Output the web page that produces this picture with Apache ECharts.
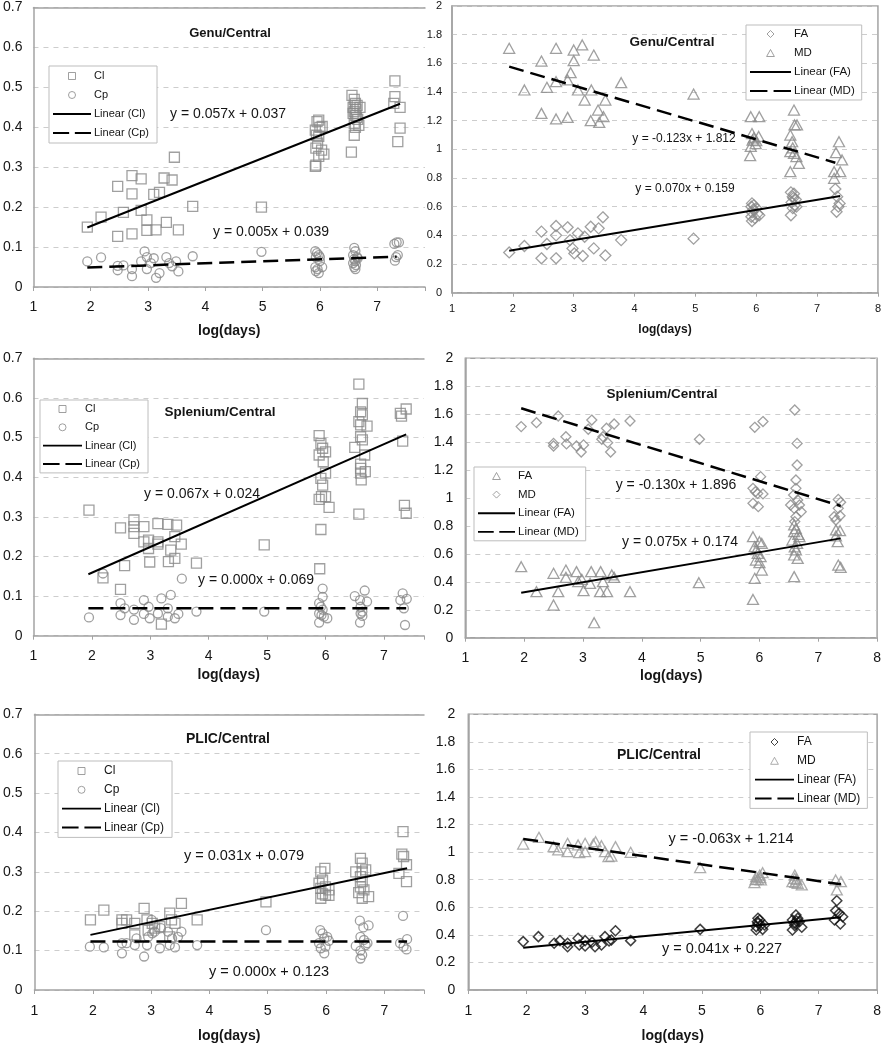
<!DOCTYPE html>
<html><head><meta charset="utf-8">
<script src="https://cdn.jsdelivr.net/npm/echarts@6/dist/echarts.min.js"></script>
<style>html,body{margin:0;padding:0;background:#fff}#c{width:884px;height:1050px}</style>
</head><body><div id="c"></div><script>
// ---------- DATA (x = log(days)) ----------
const xTickLabels = [1, 2, 3, 4, 5, 6, 7, 8];

// Genu/Central (Cl, Cp)
const genuCl = [[1.94,0.150],[2.18,0.175],[2.47,0.252],[2.47,0.127],[2.57,0.187],[2.72,0.279],[2.72,0.233],[2.72,0.133],[2.88,0.271],[2.88,0.192],[2.98,0.168],[2.98,0.142],[3.10,0.232],[3.14,0.143],[3.20,0.237],[3.28,0.273],[3.42,0.268],[3.32,0.162],[3.46,0.325],[3.53,0.143],[3.78,0.202],[4.98,0.200],
 [5.92,0.302],[5.93,0.305],[5.92,0.393],[5.93,0.348],[5.95,0.414],[5.98,0.418],[6.04,0.402],[5.98,0.377],[6.03,0.343],[6.07,0.333],[5.98,0.327],[5.94,0.380],[6.00,0.400],[5.96,0.360],
 [6.56,0.480],[6.60,0.470],[6.62,0.460],[6.65,0.455],[6.58,0.450],[6.63,0.445],[6.60,0.440],[6.70,0.450],[6.62,0.430],[6.66,0.420],[6.60,0.410],[6.68,0.405],[6.62,0.400],[6.60,0.380],[6.55,0.338],[6.64,0.425],[6.58,0.435],
 [7.31,0.516],[7.31,0.477],[7.29,0.460],[7.40,0.450],[7.40,0.398],[7.36,0.364]];
const genuCp = [[1.94,0.064],[2.18,0.074],[2.47,0.053],[2.47,0.042],[2.57,0.054],[2.72,0.045],[2.72,0.027],[2.88,0.064],[2.94,0.089],[2.98,0.075],[2.98,0.045],[3.05,0.060],[3.10,0.072],[3.14,0.023],[3.20,0.035],[3.32,0.075],[3.37,0.060],[3.42,0.052],[3.49,0.064],[3.53,0.039],[3.78,0.077],[4.98,0.088],
 [5.92,0.090],[5.95,0.085],[5.98,0.080],[5.93,0.075],[6.00,0.065],[5.92,0.050],[5.96,0.045],[6.04,0.050],[5.93,0.040],[5.98,0.035],[6.00,0.075],
 [6.60,0.098],[6.62,0.090],[6.58,0.080],[6.65,0.075],[6.60,0.070],[6.62,0.065],[6.58,0.060],[6.63,0.055],[6.60,0.050],[6.62,0.045],[6.66,0.072],
 [7.30,0.108],[7.34,0.112],[7.38,0.112],[7.36,0.080],[7.33,0.075],[7.31,0.066]];
const genuClTrend = [[1.94,0.149],[7.40,0.459]];
const genuCpTrend = [[1.94,0.049],[7.34,0.076]];

// Genu/Central (FA, MD)
const genuFA = [[1.94,0.281],[2.19,0.326],[2.47,0.426],[2.47,0.240],[2.56,0.340],[2.71,0.465],[2.71,0.400],[2.71,0.240],[2.90,0.456],[2.94,0.367],[2.98,0.309],[3.01,0.274],[3.07,0.414],[3.15,0.256],[3.18,0.390],[3.28,0.460],[3.41,0.449],[3.33,0.309],[3.48,0.526],[3.52,0.260],[3.78,0.367],[4.97,0.377],
 [5.93,0.623],[5.96,0.610],[5.92,0.600],[6.00,0.590],[5.95,0.580],[5.93,0.560],[6.02,0.550],[5.92,0.530],[5.98,0.520],[5.93,0.500],[6.05,0.540],
 [6.57,0.700],[6.62,0.690],[6.60,0.670],[6.65,0.650],[6.58,0.630],[6.63,0.610],[6.60,0.590],[6.57,0.540],[6.66,0.600],[6.61,0.660],
 [7.30,0.723],[7.33,0.670],[7.37,0.623],[7.35,0.600],[7.32,0.565]];
const genuMD = [[1.94,1.705],[2.19,1.414],[2.47,1.616],[2.47,1.251],[2.56,1.433],[2.71,1.705],[2.71,1.472],[2.71,1.212],[2.90,1.484],[2.90,1.223],[2.95,1.535],[3.00,1.693],[3.00,1.619],[3.07,1.414],[3.14,1.728],[3.18,1.344],[3.29,1.414],[3.28,1.200],[3.33,1.658],[3.40,1.274],[3.42,1.188],[3.49,1.228],[3.52,1.344],[3.78,1.465],[4.97,1.386],
 [5.91,1.228],[6.05,1.228],[5.93,1.110],[5.94,1.065],[5.91,1.020],[5.90,0.956],[5.99,1.040],[6.04,1.090],[5.96,1.080],[6.00,1.060],
 [6.62,1.274],[6.63,1.170],[6.67,1.170],[6.56,1.100],[6.59,1.053],[6.56,0.984],[6.62,0.972],[6.70,0.902],[6.56,0.844],[6.66,0.950],[6.60,1.010],
 [7.36,1.053],[7.31,0.977],[7.41,0.926],[7.28,0.844],[7.38,0.844],[7.28,0.798]];
const genuFATrend = [[1.94,0.293],[7.38,0.674]];
const genuMDTrend = [[1.94,1.577],[7.30,0.907]];

// Splenium/Central (Cl, Cp)
const splenCl = [[1.95,0.317],[2.19,0.146],[2.49,0.272],[2.49,0.117],[2.56,0.177],[2.72,0.292],[2.72,0.275],[2.72,0.258],[2.89,0.275],[2.89,0.237],[2.97,0.241],[2.97,0.220],[2.99,0.186],[3.13,0.283],[3.13,0.237],[3.13,0.231],[3.30,0.281],[3.31,0.187],[3.35,0.216],[3.42,0.195],[3.45,0.279],[3.42,0.250],[3.53,0.231],[3.19,0.029],[3.79,0.183],[4.95,0.229],
 [5.89,0.505],[5.92,0.485],[5.95,0.473],[6.00,0.464],[5.89,0.456],[5.96,0.439],[6.00,0.410],[5.92,0.397],[5.95,0.380],[5.93,0.351],[5.89,0.344],[6.00,0.351],[6.06,0.324],[5.92,0.268],[5.90,0.169],
 [6.57,0.635],[6.63,0.586],[6.60,0.565],[6.63,0.557],[6.57,0.540],[6.60,0.532],[6.71,0.529],[6.60,0.502],[6.63,0.494],[6.50,0.475],[6.67,0.456],[6.60,0.433],[6.60,0.422],[6.60,0.410],[6.61,0.393],[6.68,0.414],[6.57,0.307],
 [7.28,0.561],[7.30,0.554],[7.38,0.572],[7.32,0.491],[7.35,0.329],[7.38,0.309]];
const splenCp = [[1.95,0.046],[2.19,0.157],[2.49,0.082],[2.49,0.052],[2.56,0.069],[2.72,0.066],[2.72,0.040],[2.89,0.090],[2.89,0.055],[2.97,0.073],[2.99,0.044],[3.13,0.056],[3.19,0.094],[3.30,0.069],[3.35,0.103],[3.30,0.048],[3.42,0.044],[3.48,0.055],[3.54,0.144],[3.79,0.061],[4.95,0.061],
 [5.95,0.119],[5.95,0.098],[5.89,0.082],[5.92,0.073],[5.89,0.056],[5.93,0.052],[5.97,0.048],[5.89,0.033],[6.03,0.044],[5.95,0.066],
 [6.67,0.114],[6.50,0.100],[6.59,0.090],[6.71,0.086],[6.60,0.073],[6.63,0.061],[6.60,0.056],[6.63,0.050],[6.59,0.033],
 [7.32,0.107],[7.39,0.093],[7.28,0.090],[7.34,0.069],[7.36,0.027]];
const splenClTrend = [[1.94,0.155],[7.38,0.508]];
const splenCpTrend = [[1.94,0.069],[7.38,0.069]];

// Splenium/Central (FA, MD)
const splenFA = [[1.95,0.508],[2.21,0.329],[2.50,0.461],[2.50,0.234],[2.58,0.329],[2.71,0.484],[2.71,0.432],[2.89,0.473],[2.92,0.401],[2.98,0.418],[3.01,0.337],[3.14,0.473],[3.12,0.389],[3.19,0.107],[3.29,0.329],[3.30,0.473],[3.34,0.401],[3.41,0.329],[3.49,0.449],[3.53,0.432],[3.80,0.329],[4.97,0.394],
 [5.89,0.723],[6.00,0.687],[6.04,0.675],[5.92,0.652],[5.97,0.604],[5.94,0.556],[6.00,0.537],[6.04,0.484],[5.92,0.425],[5.89,0.274],[5.95,0.630],[6.02,0.580],
 [6.59,0.807],[6.59,0.759],[6.68,0.723],[6.56,0.699],[6.64,0.675],[6.62,0.628],[6.59,0.592],[6.65,0.568],[6.59,0.437],[6.62,0.780],[6.60,0.650],[6.66,0.740],
 [7.30,0.771],[7.37,0.766],[7.33,0.687],[7.34,0.520],[7.38,0.504],[7.30,0.728]];
const splenMD = [[1.95,1.511],[2.21,1.539],[2.58,1.587],[2.50,1.391],[2.50,1.372],[2.71,1.439],[2.72,1.387],[2.89,1.372],[2.97,1.329],[3.01,1.380],[3.09,1.492],[3.15,1.558],[3.32,1.420],[3.34,1.439],[3.40,1.499],[3.42,1.396],[3.47,1.329],[3.53,1.530],[3.80,1.551],[4.98,1.420],
 [5.92,1.506],[6.06,1.547],[6.02,1.153],[5.89,1.069],[5.93,1.045],[5.97,1.033],[6.06,1.029],[5.89,0.962],[5.98,0.938],
 [6.60,1.630],[6.64,1.391],[6.64,1.236],[6.62,1.129],[6.62,1.069],[6.58,1.021],[6.65,0.986],[6.53,0.950],[6.68,0.950],[6.59,0.926],[6.71,0.902],[6.62,0.866],[6.60,0.831],
 [7.34,0.990],[7.38,0.969],[7.37,0.873],[7.27,0.866],[7.30,0.842],[7.34,0.926]];
const splenFATrend = [[1.95,0.322],[7.38,0.711]];
const splenMDTrend = [[1.95,1.642],[7.38,0.943]];

// PLIC/Central (Cl, Cp)
const plicCl = [[1.96,0.178],[2.19,0.203],[2.50,0.178],[2.50,0.169],[2.58,0.178],[2.72,0.169],[2.72,0.140],[2.88,0.207],[2.93,0.178],[2.95,0.152],[3.02,0.169],[3.06,0.157],[3.15,0.161],[3.32,0.195],[3.35,0.178],[3.32,0.135],[3.41,0.169],[3.52,0.220],[3.79,0.178],[4.97,0.224],
 [5.91,0.300],[5.98,0.309],[5.94,0.279],[5.88,0.271],[5.99,0.262],[5.91,0.258],[6.05,0.254],[5.94,0.244],[5.99,0.241],[5.91,0.233],[6.05,0.240],
 [6.59,0.334],[6.62,0.322],[6.51,0.300],[6.62,0.300],[6.59,0.288],[6.68,0.305],[6.62,0.275],[6.59,0.262],[6.65,0.254],[6.56,0.247],[6.73,0.237],[6.62,0.233],
 [7.32,0.402],[7.30,0.345],[7.33,0.339],[7.38,0.318],[7.25,0.296],[7.38,0.275]];
const plicCp = [[1.95,0.110],[2.19,0.108],[2.50,0.093],[2.50,0.119],[2.58,0.119],[2.72,0.114],[2.75,0.131],[2.88,0.085],[2.93,0.114],[2.95,0.135],[3.02,0.144],[3.01,0.178],[3.06,0.148],[3.15,0.106],[3.17,0.157],[3.29,0.148],[3.32,0.114],[3.36,0.131],[3.41,0.108],[3.52,0.148],[3.46,0.135],[3.79,0.114],[4.97,0.152],
 [5.90,0.152],[5.94,0.144],[5.97,0.131],[6.02,0.135],[5.88,0.119],[5.91,0.106],[5.97,0.093],[5.99,0.110],[6.05,0.125],
 [6.58,0.176],[6.64,0.159],[6.73,0.164],[6.59,0.135],[6.65,0.127],[6.51,0.112],[6.68,0.114],[6.59,0.100],[6.62,0.089],[6.59,0.080],[6.71,0.119],
 [7.32,0.188],[7.39,0.129],[7.27,0.119],[7.33,0.110],[7.38,0.103]];
const plicClTrend = [[1.96,0.140],[7.39,0.309]];
const plicCpTrend = [[1.96,0.123],[7.39,0.123]];

// PLIC/Central (FA, MD)
const plicFA = [[1.94,0.351],[2.20,0.387],[2.47,0.339],[2.57,0.358],[2.70,0.339],[2.70,0.314],[2.88,0.375],[2.90,0.326],[3.00,0.358],[3.00,0.319],[3.12,0.346],[3.17,0.314],[3.28,0.326],[3.34,0.387],[3.41,0.355],[3.45,0.363],[3.52,0.430],[3.78,0.358],[4.97,0.440],
 [5.99,0.508],[5.96,0.484],[5.93,0.460],[6.01,0.472],[6.04,0.440],[5.93,0.435],[6.07,0.472],[5.96,0.520],[5.95,0.495],
 [6.61,0.544],[6.64,0.520],[6.55,0.508],[6.58,0.484],[6.67,0.496],[6.55,0.435],[6.71,0.455],[6.59,0.467],[6.62,0.500],
 [7.31,0.648],[7.29,0.576],[7.35,0.556],[7.41,0.532],[7.27,0.508],[7.37,0.479]];
const plicMD = [[1.94,1.059],[2.21,1.108],[2.46,1.040],[2.54,1.016],[2.70,1.064],[2.70,1.004],[2.88,1.052],[2.90,0.996],[3.00,1.064],[3.00,1.004],[3.14,1.059],[3.18,1.076],[3.28,1.047],[3.34,1.004],[3.40,0.967],[3.45,0.972],[3.52,1.040],[3.78,0.999],[4.97,0.888],
 [5.90,0.779],[5.93,0.822],[5.99,0.834],[6.04,0.851],[5.96,0.803],[6.01,0.798],[5.92,0.800],[6.00,0.815],
 [6.59,0.834],[6.59,0.810],[6.55,0.786],[6.64,0.774],[6.71,0.762],[6.62,0.800],[6.60,0.780],
 [7.29,0.798],[7.38,0.786],[7.31,0.726]];
const plicFATrend = [[1.94,0.307],[7.38,0.527]];
const plicMDTrend = [[1.94,1.096],[7.38,0.767]];

const panelTitles = ['Genu/Central','Genu/Central','Splenium/Central','Splenium/Central','PLIC/Central','PLIC/Central'];
const equations = [
  ['y = 0.057x + 0.037','y = 0.005x + 0.039'],
  ['y = -0.123x + 1.812','y = 0.070x + 0.159'],
  ['y = 0.067x + 0.024','y = 0.000x + 0.069'],
  ['y = -0.130x + 1.896','y = 0.075x + 0.174'],
  ['y = 0.031x + 0.079','y = 0.000x + 0.123'],
  ['y = -0.063x + 1.214','y = 0.041x + 0.227']
];

// ---------- STYLE / LAYOUT ----------
const FONT = "'Liberation Sans', Arial, sans-serif";
const GRAY = '#888888';
const AXIS = '#a3a3a3';
const TXT = '#151515';
const ICON = {
  square: 'path://M0,0H10V10H0Z',
  circle: 'path://M5,0A5,5,0,1,1,5,10A5,5,0,1,1,5,0Z',
  diamond: 'path://M5,0L10,5L5,10L0,5Z',
  triangle: 'path://M5,0L10,9L0,9Z',
  solid: 'path://M0,0H40V2H0Z',
  dashed: 'path://M0,0H17V2H0Z M23,0H40V2H23Z'
};

const panels = [
  {grid:{left:32,top:7.5,width:393,height:279.5}, xmax:7.835, ymax:0.7, yint:0.1, lab:14, labM:[13,11], name:{size:14,gap:37}, left:true,
   title:{x:230,y:33,size:13}, eq:[{x:228,y:114,size:14},{x:271,y:232,size:14}]},
  {grid:{left:452,top:6,width:428,height:286.7}, xmax:8, ymax:2, yint:0.2, lab:11, labM:[11,10], name:{size:12,gap:31}, left:false,
   title:{x:672,y:42,size:13.5}, eq:[{x:684,y:139,size:12},{x:685,y:189,size:12}]},
  {grid:{left:30.7,top:358.3,width:393.3,height:277.4}, xmax:7.685, ymax:0.7, yint:0.1, lab:14, labM:[13,11], name:{size:14,gap:32}, left:true,
   title:{x:220,y:412,size:13.5}, eq:[{x:202,y:494,size:14},{x:256,y:580,size:14}]},
  {grid:{left:465.3,top:358.3,width:413,height:279.4}, xmax:8, ymax:2, yint:0.2, lab:14, labM:[13,12], name:{size:14,gap:31}, left:false,
   title:{x:662,y:394,size:13.5}, eq:[{x:676,y:485,size:14},{x:680,y:542,size:14}]},
  {grid:{left:32.3,top:714.3,width:391.7,height:275.7}, xmax:7.68, ymax:0.7, yint:0.1, lab:14, labM:[14,12], name:{size:14,gap:39}, left:true,
   title:{x:228,y:739,size:14}, eq:[{x:244,y:856,size:14.5},{x:269,y:972,size:14.5}]},
  {grid:{left:468.3,top:714.3,width:410,height:275.7}, xmax:8, ymax:2, yint:0.2, lab:14, labM:[14,13], name:{size:14,gap:39}, left:false,
   title:{x:659,y:755,size:14}, eq:[{x:731,y:839,size:14.5},{x:722,y:949,size:14.5}]}
];

const grids = [], xAxes = [], yAxes = [], graphics = [];
panels.forEach((p, i) => {
  grids.push(Object.assign({containLabel:false, show: !p.left, borderColor: AXIS, borderWidth: 1.5}, p.grid));
  xAxes.push({
    gridIndex:i, type:'value', min:1, max:p.xmax, interval:1,
    axisLine:{show:true, onZero:false, lineStyle:{color:AXIS, width:1.5}},
    axisTick:{show:true, length:4, lineStyle:{color:AXIS}},
    splitLine:{show:false},
    axisLabel:{fontSize:p.lab, color:TXT, fontFamily:FONT, margin:p.labM[0],
      formatter: v => (xTickLabels.indexOf(v) >= 0 ? String(v) : '')},
    name:'log(days)', nameLocation:'middle', nameGap:p.name.gap,
    nameTextStyle:{fontSize:p.name.size, fontWeight:'bold', color:TXT, fontFamily:FONT}
  });
  yAxes.push({
    gridIndex:i, type:'value', min:0, max:p.ymax, interval:p.yint,
    axisLine:{show:true, onZero:false, lineStyle:{color:AXIS, width:1.5}},
    axisTick:{show:false},
    splitLine:{show:true, lineStyle:{color:'#cdcdcd', type:[5,5], width:1}},
    axisLabel:{fontSize:p.lab, color:TXT, fontFamily:FONT, margin:p.labM[1]}
  });
  graphics.push({type:'text', x:p.title.x, y:p.title.y, silent:true,
    style:{text:panelTitles[i], fontSize:p.title.size, fontWeight:'bold', fontFamily:FONT, fill:TXT, align:'center', verticalAlign:'middle'}});
  p.eq.forEach((e, k) => graphics.push({type:'text', x:e.x, y:e.y, silent:true,
    style:{text:equations[i][k], fontSize:e.size, fontFamily:FONT, fill:TXT, align:'center', verticalAlign:'middle'}}));
});
// top border lines for left panels
panels.forEach((p, i) => {
  if (!p.left) return;
  xAxes.push({gridIndex:i, type:'value', position:'top', min:1, max:p.xmax,
    axisLine:{show:true, onZero:false, lineStyle:{color:AXIS, width:1.5}},
    axisTick:{show:false}, axisLabel:{show:false}, splitLine:{show:false}});
});

function scat(name, data, g, symbol, size, color, bw) {
  return {type:'scatter', name, data, xAxisIndex:g, yAxisIndex:g, symbol, symbolSize:size,
    itemStyle:{color:'rgba(0,0,0,0)', borderColor:color, borderWidth:bw}, emphasis:{disabled:true}, z:2};
}
function trend(name, data, g, dashed) {
  return {type:'line', name, data, xAxisIndex:g, yAxisIndex:g, symbol:'none', silent:true,
    lineStyle:{color:'#000', width: dashed ? 2.5 : 2, type: dashed ? [15,7] : 'solid'}, z:3};
}
const series = [
  scat('Cl', genuCl, 0, 'rect', 10, GRAY, 1.3), scat('Cp', genuCp, 0, 'circle', 9, GRAY, 1.3),
  trend('Linear (Cl)', genuClTrend, 0, false), trend('Linear (Cp)', genuCpTrend, 0, true),
  scat('FA', genuFA, 1, 'diamond', 11, GRAY, 1.3), scat('MD', genuMD, 1, 'triangle', [11,10], GRAY, 1.3),
  trend('Linear (FA)', genuFATrend, 1, false), trend('Linear (MD)', genuMDTrend, 1, true),
  scat('Cl', splenCl, 2, 'rect', 10, GRAY, 1.3), scat('Cp', splenCp, 2, 'circle', 9, GRAY, 1.3),
  trend('Linear (Cl)', splenClTrend, 2, false), trend('Linear (Cp)', splenCpTrend, 2, true),
  scat('FA', splenFA, 3, 'triangle', [11,10], GRAY, 1.3), scat('MD', splenMD, 3, 'diamond', 10, GRAY, 1.3),
  trend('Linear (FA)', splenFATrend, 3, false), trend('Linear (MD)', splenMDTrend, 3, true),
  scat('Cl', plicCl, 4, 'rect', 10, GRAY, 1.3), scat('Cp', plicCp, 4, 'circle', 9, GRAY, 1.3),
  trend('Linear (Cl)', plicClTrend, 4, false), trend('Linear (Cp)', plicCpTrend, 4, true),
  scat('FA', plicFA, 5, 'diamond', 10, '#111', 1.5), scat('MD', plicMD, 5, 'triangle', [11,10], '#999', 1.3),
  trend('Linear (FA)', plicFATrend, 5, false), trend('Linear (MD)', plicMDTrend, 5, true)
];

function mk(name, icon, color) {
  const isLine = icon === 'solid' || icon === 'dashed';
  return {name, icon: ICON[icon],
    itemStyle: isLine ? {color:'#000', borderWidth:0} : {color:'rgba(0,0,0,0)', borderColor:color, borderWidth:1}};
}
function legend(left, top, items, fs, iw, gap, pad) {
  return {orient:'vertical', left, top, data:items, selectedMode:false, itemWidth:iw, itemHeight:7, itemGap:gap,
    padding:pad, borderColor:'#bdbdbd', borderWidth:1, backgroundColor:'#fff',
    textStyle:{fontSize:fs, color:TXT, fontFamily:FONT, lineHeight:14, padding:[0,0,0,-2]}};
}
const legends = [
  legend(49, 66, [mk('Cl','square',GRAY), mk('Cp','circle',GRAY), mk('Linear (Cl)','solid'), mk('Linear (Cp)','dashed')], 11, 38, 5, [3,8,3,4]),
  legend(746, 25, [mk('FA','diamond',GRAY), mk('MD','triangle',GRAY), mk('Linear (FA)','solid'), mk('Linear (MD)','dashed')], 11.5, 41, 5, [2,7,2,4]),
  legend(40, 400, [mk('Cl','square',GRAY), mk('Cp','circle',GRAY), mk('Linear (Cl)','solid'), mk('Linear (Cp)','dashed')], 11, 39, 4.3, [2,8,2,3]),
  legend(474, 467, [mk('FA','triangle',GRAY), mk('MD','diamond',GRAY), mk('Linear (FA)','solid'), mk('Linear (MD)','dashed')], 11.5, 37, 4.6, [2,7,2,4]),
  legend(58, 761, [mk('Cl','square',GRAY), mk('Cp','circle',GRAY), mk('Linear (Cl)','solid'), mk('Linear (Cp)','dashed')], 12, 39, 4.8, [3,8,3,4]),
  legend(750, 732, [mk('FA','diamond','#111'), mk('MD','triangle','#999'), mk('Linear (FA)','solid'), mk('Linear (MD)','dashed')], 12, 39, 4.8, [3,7,3,5])
];

const chart = echarts.init(document.getElementById('c'), null, {renderer:'canvas'});
chart.setOption({
  animation:false, backgroundColor:'#fff',
  textStyle:{fontFamily:FONT},
  grid:grids, xAxis:xAxes, yAxis:yAxes, series, legend:legends, graphic:graphics
});
</script></body></html>
